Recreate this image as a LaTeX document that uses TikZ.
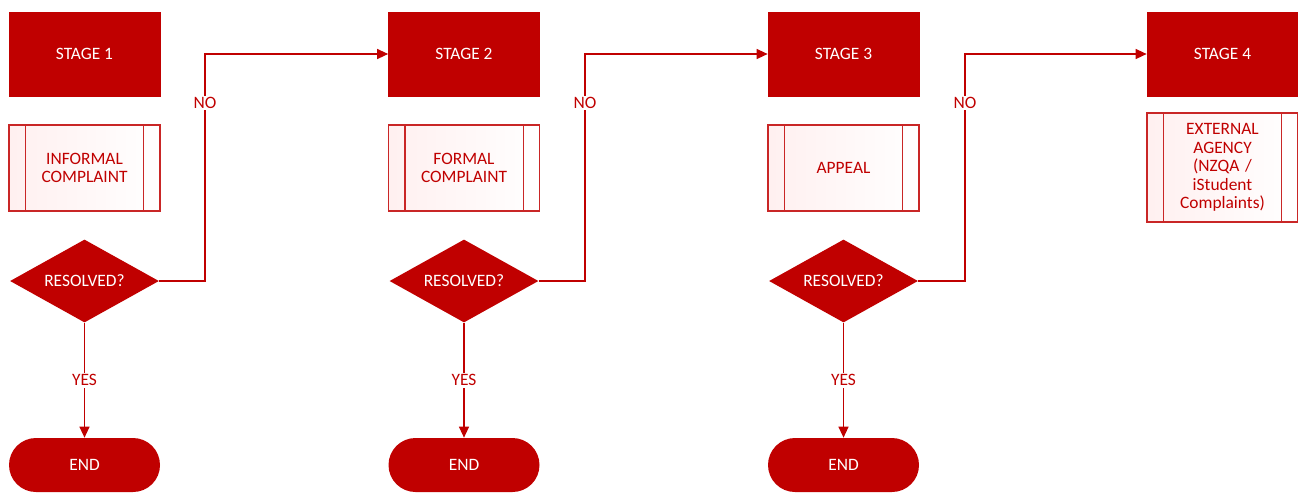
\documentclass[tikz,border=0pt]{standalone}
\usepackage{fontspec}
\setmainfont{Carlito}
\usetikzlibrary{shapes.geometric,arrows.meta,positioning}
\definecolor{darkred}{HTML}{C00000}
\begin{document}
\begin{tikzpicture}[>={Triangle[length=2.2mm,width=2mm]},
  every node/.style={font=\fontsize{9.9}{10.5}\selectfont},
  stagebox/.style={fill=darkred, draw=darkred, text=white,
    minimum width=3.02cm, minimum height=1.68cm},
  procbox/.style={draw=darkred!85, line width=0.8pt, left color=red!6,
    right color=white, text=darkred, align=center, text width=2.2cm,
    minimum width=3.02cm, minimum height=1.72cm},
  decision/.style={diamond, aspect=1.8, fill=darkred, text=white, inner sep=0pt,
    minimum width=2.98cm, minimum height=1.66cm},
  endbox/.style={fill=darkred, text=white, rounded corners=0.54cm,
    minimum width=3.02cm, minimum height=1.08cm},
  link/.style={draw=darkred, line width=0.75pt},
  lbl/.style={fill=white, text=darkred, inner sep=1pt}]
  \useasboundingbox (0,0) rectangle (25.96,-9.86);
  % Stages
  \foreach \i/\x in {1/1.69, 2/9.28, 3/16.87, 4/24.45}
    \node[stagebox] (s\i) at (\x,-1.08) {STAGE \i};
  % Processes
  \node[procbox] (p1) at (1.69,-3.36) {INFORMAL\\COMPLAINT};
  \node[procbox] (p2) at (9.28,-3.36) {FORMAL\\COMPLAINT};
  \node[procbox] (p3) at (16.87,-3.36) {APPEAL};
  \node[procbox, minimum height=2.18cm] (p4) at (24.45,-3.35)
    {EXTERNAL\\AGENCY\\(NZQA /\\iStudent\\Complaints)};
  \foreach \i in {1,...,4} {
    \draw[darkred!85, line width=0.8pt] ([xshift=0.34cm]p\i.north west) -- ([xshift=0.34cm]p\i.south west);
    \draw[darkred!85, line width=0.8pt] ([xshift=-0.34cm]p\i.north east) -- ([xshift=-0.34cm]p\i.south east);
  }
  % Decisions and ends
  \foreach \i/\x in {1/1.69, 2/9.28, 3/16.87} {
    \node[decision] (d\i) at (\x,-5.62) {RESOLVED?};
    \node[endbox] (e\i) at (\x,-9.3) {END};
    \draw[link,->] (d\i) -- node[lbl] {YES} (e\i);
  }
  % NO -> next stage
  \foreach \i/\j/\x in {1/2/4.1, 2/3/11.7, 3/4/19.3} {
    \coordinate (n\i) at (\x,-5.62);
    \draw[link,->] (d\i.east) -- (n\i) |- (s\j.west);
    \node[lbl] (no\i) at (\x,-2.06) {NO};
  }
\end{tikzpicture}
\end{document}
